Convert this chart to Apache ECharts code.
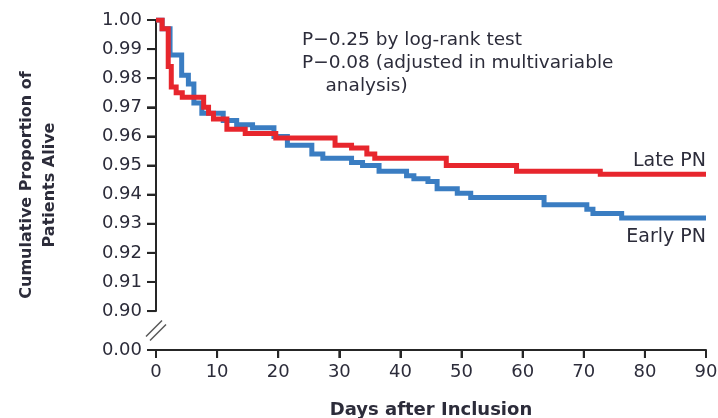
<!DOCTYPE html>
<html>
<head>
<meta charset="utf-8">
<script src="https://cdn.jsdelivr.net/npm/echarts@6/dist/echarts.min.js"></script>
<style>
  html, body { margin: 0; padding: 0; background: #fff; }
  #chart { width: 718px; height: 418px; }
</style>
</head>
<body>
<div id="chart"></div>
<script>
// Kaplan-Meier survival, step changes (day, cumulative proportion alive)
const lateDays  = [0, 1.0, 2.0, 2.5, 3.3, 4.3, 7.8, 8.6, 9.4, 11.6, 14.6, 19.6, 29.3, 32.0, 34.5, 35.8, 47.5, 59.0, 72.7, 90];
const lateSurv  = [1.000, 0.997, 0.984, 0.977, 0.975, 0.9735, 0.970, 0.968, 0.966, 0.9625, 0.961, 0.9595, 0.957, 0.956, 0.954, 0.9525, 0.950, 0.948, 0.947, 0.947];

const earlyDays = [0, 1.0, 2.3, 4.2, 5.3, 6.2, 7.5, 11.0, 13.2, 15.8, 19.3, 21.5, 25.5, 27.3, 32.0, 33.8, 36.5, 41.0, 42.2, 44.5, 46.0, 49.3, 51.5, 63.5, 70.5, 71.5, 76.2, 90];
const earlySurv = [1.000, 0.997, 0.988, 0.981, 0.978, 0.9715, 0.968, 0.9655, 0.964, 0.963, 0.960, 0.957, 0.954, 0.9525, 0.951, 0.950, 0.948, 0.9465, 0.9455, 0.9445, 0.942, 0.9405, 0.939, 0.9365, 0.935, 0.9335, 0.932, 0.932];

const xTickValues = [0, 10, 20, 30, 40, 50, 60, 70, 80, 90];
const yTickValues = [0, 0.90, 0.91, 0.92, 0.93, 0.94, 0.95, 0.96, 0.97, 0.98, 0.99, 1.00];
const yBreak = { start: 0, end: 0.9 };

const annotation = ['P\u22120.25 by log-rank test', 'P\u22120.08 (adjusted in multivariable', '    analysis)'];

const pairs = (xs, ys) => xs.map((x, i) => [x, ys[i]]);

const FONT = '"DejaVu Sans", Verdana, sans-serif';
const TXT = '#2c2c3a';
const AX = '#262626';

const chart = echarts.init(document.getElementById('chart'));

chart.setOption({
  animation: false,
  backgroundColor: '#ffffff',
  grid: { left: 156, right: 12, top: 20, bottom: 68, outerBoundsMode: 'none' },
  xAxis: {
    type: 'value', min: 0, max: 90, interval: 10,
    name: 'Days after Inclusion', nameLocation: 'middle', nameGap: 51,
    nameTextStyle: { fontFamily: FONT, fontWeight: 'bold', fontSize: 18, color: TXT },
    axisLine: { show: true, lineStyle: { color: AX, width: 2 } },
    axisTick: { show: true, length: 8, lineStyle: { color: AX, width: 2 } },
    axisLabel: { margin: 13, fontFamily: FONT, fontSize: 18, color: TXT },
    splitLine: { show: false }
  },
  yAxis: {
    type: 'value', min: 0, max: 1, interval: 0.01,
    breaks: [{ start: yBreak.start, end: yBreak.end, gap: '11.8%' }],
    breakArea: { show: false },
    name: 'Cumulative Proportion of\nPatients Alive', nameLocation: 'middle', nameGap: 95, nameRotate: 90,
    nameTextStyle: { fontFamily: FONT, fontWeight: 'bold', fontSize: 16, color: TXT, lineHeight: 23 },
    axisLine: { show: true, onZero: false, lineStyle: { color: AX, width: 2 } },
    axisTick: { show: true, length: 9, lineStyle: { color: AX, width: 2 } },
    axisLabel: { margin: 14, fontFamily: FONT, fontSize: 18, color: TXT, customValues: yTickValues,
                 formatter: v => v.toFixed(2) },
    splitLine: { show: false }
  },
  series: [
    {
      name: 'Early PN', type: 'line', step: 'end', showSymbol: false,
      data: pairs(earlyDays, earlySurv),
      lineStyle: { color: '#3a7dc2', width: 5, cap: 'butt', join: 'miter' },
      z: 2
    },
    {
      name: 'Late PN', type: 'line', step: 'end', showSymbol: false,
      data: pairs(lateDays, lateSurv),
      lineStyle: { color: '#e7262d', width: 5, cap: 'butt', join: 'miter' },
      z: 3
    }
  ]
});

// Axis ticks, break marks, series end labels and the test annotation
const px = (x, y) => chart.convertToPixel({ gridIndex: 0 }, [x, y]);
const p90 = px(0, 0.90);
const p0 = px(0, 0);
const cy = (p90[1] + p0[1]) / 2;
const ax = p0[0];
const ay = p0[1];
const lateEnd = px(90, lateSurv[lateSurv.length - 1]);
const earlyEnd = px(90, earlySurv[earlySurv.length - 1]);
const pTop = px(0, 1.0);

// Tick marks as small filled rectangles, each with its own style object
const xTickMarks = xTickValues.map(v => {
  const p = px(v, 0);
  return { type: 'rect', shape: { x: p[0] - 1, y: ay, width: 2, height: 8 },
           style: { fill: AX }, z: 90 };
});
const yTickMarks = yTickValues.map(v => {
  const p = px(0, v);
  return { type: 'rect', shape: { x: ax - 9, y: p[1] - 1, width: 9, height: 2 },
           style: { fill: AX }, z: 90 };
});

chart.setOption({
  graphic: [
    ...xTickMarks,
    ...yTickMarks,
    { type: 'polygon', shape: { points: [[ax - 9, cy + 5], [ax + 5, cy - 9], [ax + 9, cy - 5], [ax - 5, cy + 9]] },
      style: { fill: '#ffffff' }, z: 100 },
    { type: 'line', shape: { x1: ax - 10, y1: cy + 6, x2: ax + 6, y2: cy - 10 },
      style: { stroke: '#555', lineWidth: 1.5 }, z: 101 },
    { type: 'line', shape: { x1: ax - 6, y1: cy + 10, x2: ax + 10, y2: cy - 6 },
      style: { stroke: '#555', lineWidth: 1.5 }, z: 101 },
    { type: 'text', x: lateEnd[0], y: lateEnd[1] - 13,
      style: { text: 'Late PN', font: '19px ' + FONT, fill: TXT, textAlign: 'right', textVerticalAlign: 'middle' }, z: 110 },
    { type: 'text', x: earlyEnd[0], y: earlyEnd[1] + 19,
      style: { text: 'Early PN', font: '19px ' + FONT, fill: TXT, textAlign: 'right', textVerticalAlign: 'middle' }, z: 110 },
    { type: 'text', x: 302, y: pTop[1] + 8.5,
      style: { text: annotation.join('\n'), font: '18.5px ' + FONT, fill: TXT, lineHeight: 23,
               textAlign: 'left', textVerticalAlign: 'top' }, z: 110 }
  ]
});
</script>
</body>
</html>
